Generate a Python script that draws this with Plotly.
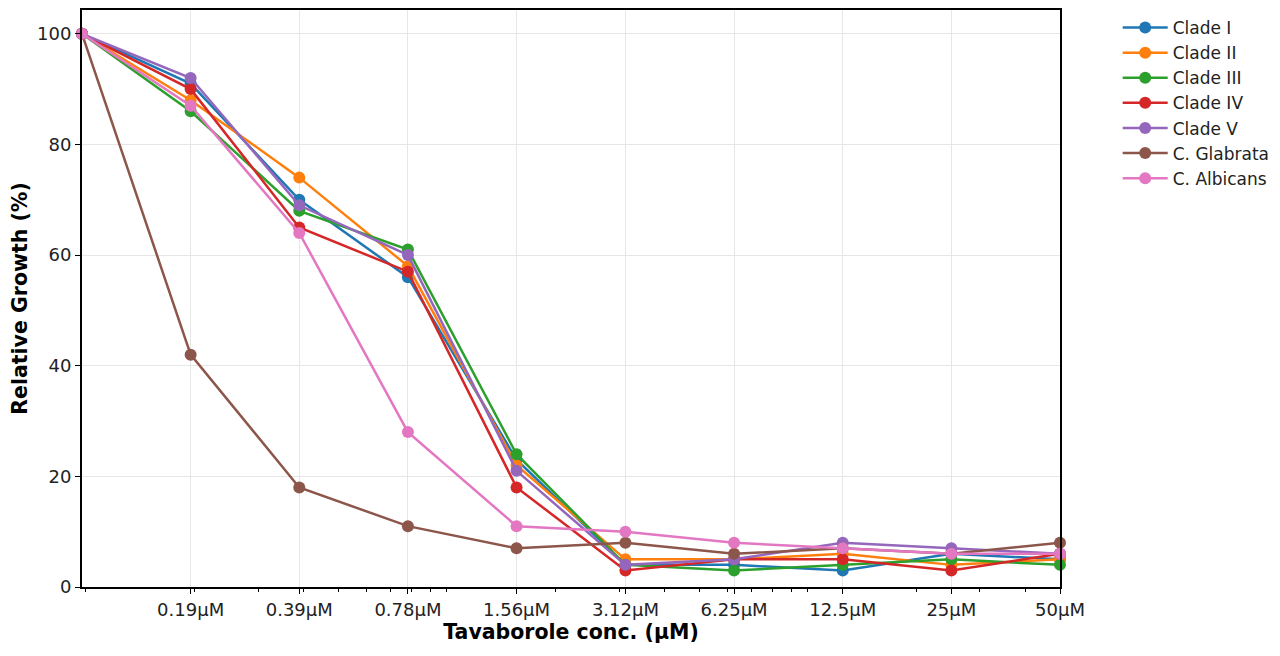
import numpy as np
import plotly.graph_objects as go

# concentrations (first point = untreated control, drawn one doubling below 0.195)
conc = [0.0975, 0.195, 0.39, 0.78, 1.56, 3.125, 6.25, 12.5, 25, 50]
tick_vals = [0.195, 0.39, 0.78, 1.56, 3.125, 6.25, 12.5, 25, 50]
tick_text = ["0.19µM", "0.39µM", "0.78µM", "1.56µM", "3.12µM",
             "6.25µM", "12.5µM", "25µM", "50µM"]

clade_1 = [100, 91, 70, 56, 23, 4, 4, 3, 6, 5]
clade_2 = [100, 88, 74, 58, 22, 5, 5, 6, 4, 5]
clade_3 = [100, 86, 68, 61, 24, 4, 3, 4, 5, 4]
clade_4 = [100, 90, 65, 57, 18, 3, 5, 5, 3, 6]
clade_5 = [100, 92, 69, 60, 21, 4, 5, 8, 7, 6]
glabrata = [100, 42, 18, 11, 7, 8, 6, 7, 6, 8]
albicans = [100, 87, 64, 28, 11, 10, 8, 7, 6, 6]

series = [
    ("Clade I", clade_1, "#1f77b4"),
    ("Clade II", clade_2, "#ff7f0e"),
    ("Clade III", clade_3, "#2ca02c"),
    ("Clade IV", clade_4, "#d62728"),
    ("Clade V", clade_5, "#9467bd"),
    ("C. Glabrata", glabrata, "#8c564b"),
    ("C. Albicans", albicans, "#e377c2"),
]

fig = go.Figure()
for name, vals, color in series:
    fig.add_trace(
        go.Scatter(
            x=conc,
            y=vals,
            name=name,
            mode="lines+markers",
            line=dict(color=color, width=2.5),
            marker=dict(color=color, size=12),
            cliponaxis=False
        )
    )

fig.update_layout(
    width=1280,
    height=656,
    plot_bgcolor="white",
    paper_bgcolor="white",
    font=dict(family="DejaVu Sans", size=17, color="#222222"),
    margin=dict(l=72, r=228, t=0, b=77),
    xaxis=dict(
        type="log",
        range=[np.log10(0.0975), np.log10(50)],
        tickmode="array",
        tickvals=tick_vals,
        ticktext=tick_text,
        ticks="outside",
        ticklen=5,
        tickcolor="black",
        tickfont=dict(size=18),
        showline=True,
        linecolor="black",
        linewidth=2,
        mirror=True,
        showgrid=True,
        gridcolor="#e6e6e6",
        minor=dict(ticks="outside", ticklen=3, tickcolor="black",
                   dtick="D1", showgrid=False),
        title=dict(text="<b>Tavaborole conc. (µM)</b>", font=dict(size=20.5, color="black"), standoff=6),
        zeroline=False
    ),
    yaxis=dict(
        range=[0, 104.3],
        tickvals=[0, 20, 40, 60, 80, 100],
        ticks="outside",
        ticklen=5,
        tickcolor="black",
        tickfont=dict(size=18),
        showline=True,
        linecolor="black",
        linewidth=2,
        mirror=True,
        showgrid=True,
        gridcolor="#e6e6e6",
        zeroline=False,
        title=dict(text="<b>Relative Growth (%)</b>", font=dict(size=20.5, color="black"), standoff=15)
    ),
    legend=dict(
        x=1.059,
        y=1.0,
        xanchor="left",
        yanchor="top",
        font=dict(size=17),
        itemwidth=45,
        bgcolor="rgba(0,0,0,0)"
    )
)

fig.write_html("out.html")
